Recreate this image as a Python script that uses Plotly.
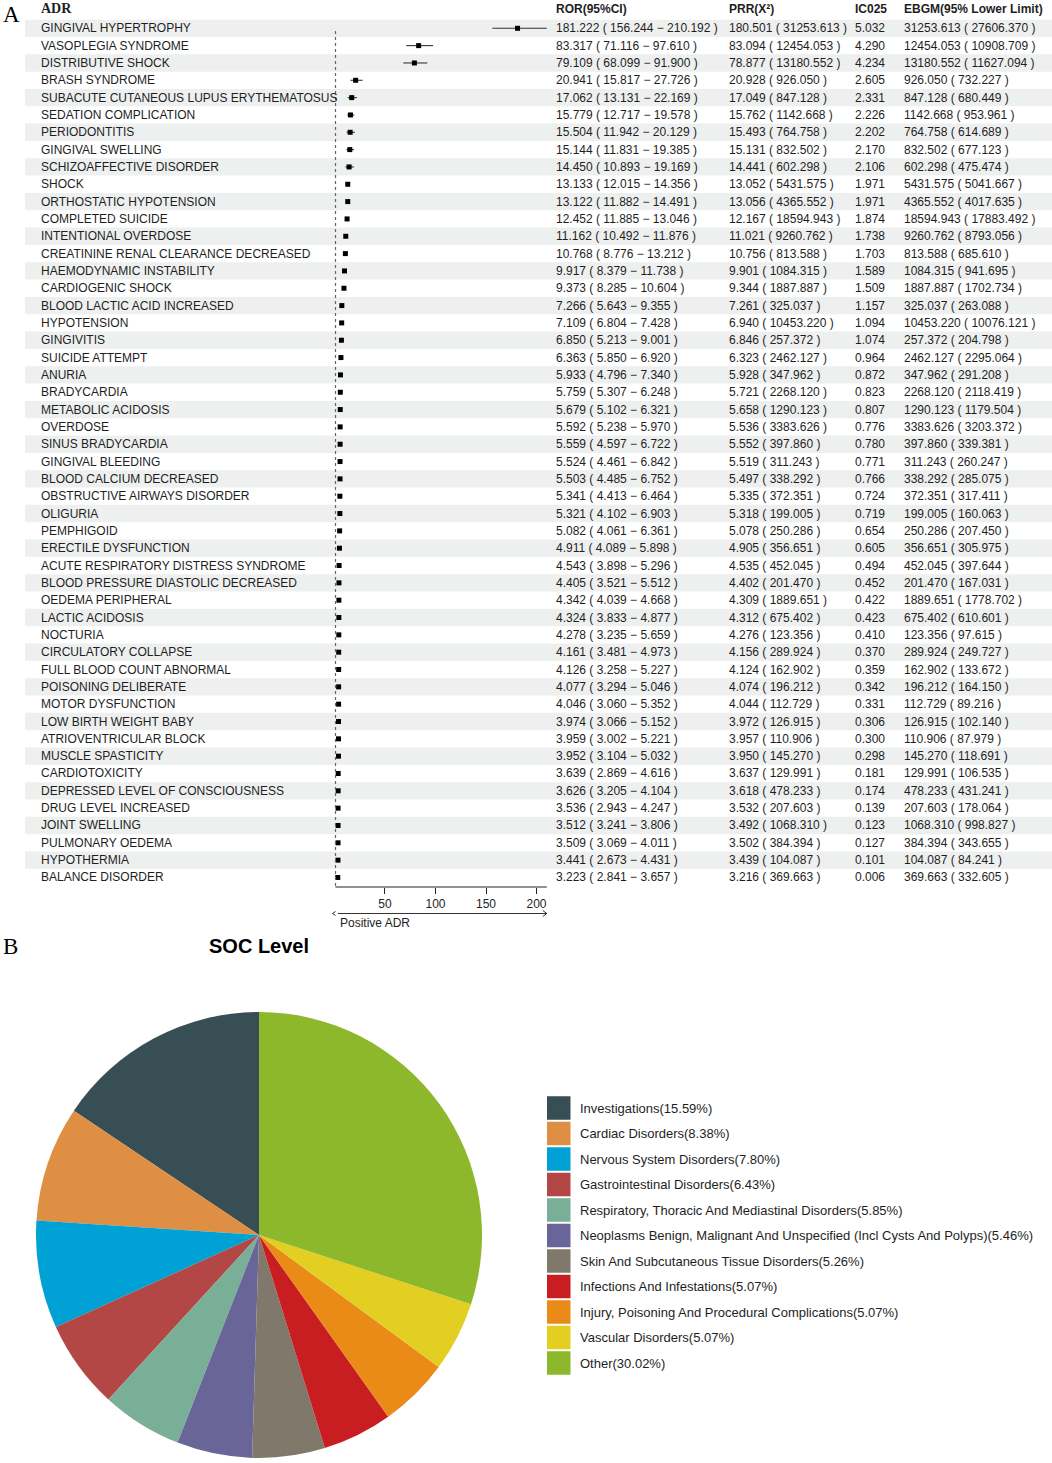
import plotly.graph_objects as go

W, H = 1052, 1463

# ---------------- data (panel A) ----------------
adr = ["GINGIVAL HYPERTROPHY", "VASOPLEGIA SYNDROME", "DISTRIBUTIVE SHOCK", "BRASH SYNDROME",
       "SUBACUTE CUTANEOUS LUPUS ERYTHEMATOSUS", "SEDATION COMPLICATION", "PERIODONTITIS",
       "GINGIVAL SWELLING", "SCHIZOAFFECTIVE DISORDER", "SHOCK", "ORTHOSTATIC HYPOTENSION",
       "COMPLETED SUICIDE", "INTENTIONAL OVERDOSE", "CREATININE RENAL CLEARANCE DECREASED",
       "HAEMODYNAMIC INSTABILITY", "CARDIOGENIC SHOCK", "BLOOD LACTIC ACID INCREASED",
       "HYPOTENSION", "GINGIVITIS", "SUICIDE ATTEMPT", "ANURIA", "BRADYCARDIA",
       "METABOLIC ACIDOSIS", "OVERDOSE", "SINUS BRADYCARDIA", "GINGIVAL BLEEDING",
       "BLOOD CALCIUM DECREASED", "OBSTRUCTIVE AIRWAYS DISORDER", "OLIGURIA", "PEMPHIGOID",
       "ERECTILE DYSFUNCTION", "ACUTE RESPIRATORY DISTRESS SYNDROME",
       "BLOOD PRESSURE DIASTOLIC DECREASED", "OEDEMA PERIPHERAL", "LACTIC ACIDOSIS", "NOCTURIA",
       "CIRCULATORY COLLAPSE", "FULL BLOOD COUNT ABNORMAL", "POISONING DELIBERATE",
       "MOTOR DYSFUNCTION", "LOW BIRTH WEIGHT BABY", "ATRIOVENTRICULAR BLOCK",
       "MUSCLE SPASTICITY", "CARDIOTOXICITY", "DEPRESSED LEVEL OF CONSCIOUSNESS",
       "DRUG LEVEL INCREASED", "JOINT SWELLING", "PULMONARY OEDEMA", "HYPOTHERMIA",
       "BALANCE DISORDER"]
ror = [181.222, 83.317, 79.109, 20.941, 17.062, 15.779, 15.504, 15.144, 14.450, 13.133,
       13.122, 12.452, 11.162, 10.768, 9.917, 9.373, 7.266, 7.109, 6.850, 6.363,
       5.933, 5.759, 5.679, 5.592, 5.559, 5.524, 5.503, 5.341, 5.321, 5.082,
       4.911, 4.543, 4.405, 4.342, 4.324, 4.278, 4.161, 4.126, 4.077, 4.046,
       3.974, 3.959, 3.952, 3.639, 3.626, 3.536, 3.512, 3.509, 3.441, 3.223]
ror_lo = [156.244, 71.116, 68.099, 15.817, 13.131, 12.717, 11.942, 11.831, 10.893, 12.015,
          11.882, 11.885, 10.492, 8.776, 8.379, 8.285, 5.643, 6.804, 5.213, 5.850,
          4.796, 5.307, 5.102, 5.238, 4.597, 4.461, 4.485, 4.413, 4.102, 4.061,
          4.089, 3.898, 3.521, 4.039, 3.833, 3.235, 3.481, 3.258, 3.294, 3.060,
          3.066, 3.002, 3.104, 2.869, 3.205, 2.943, 3.241, 3.069, 2.673, 2.841]
ror_hi = [210.192, 97.610, 91.900, 27.726, 22.169, 19.578, 20.129, 19.385, 19.169, 14.356,
          14.491, 13.046, 11.876, 13.212, 11.738, 10.604, 9.355, 7.428, 9.001, 6.920,
          7.340, 6.248, 6.321, 5.970, 6.722, 6.842, 6.752, 6.464, 6.903, 6.361,
          5.898, 5.296, 5.512, 4.668, 4.877, 5.659, 4.973, 5.227, 5.046, 5.352,
          5.152, 5.221, 5.032, 4.616, 4.104, 4.247, 3.806, 4.011, 4.431, 3.657]
prr = [180.501, 83.094, 78.877, 20.928, 17.049, 15.762, 15.493, 15.131, 14.441, 13.052,
       13.056, 12.167, 11.021, 10.756, 9.901, 9.344, 7.261, 6.940, 6.846, 6.323,
       5.928, 5.721, 5.658, 5.536, 5.552, 5.519, 5.497, 5.335, 5.318, 5.078,
       4.905, 4.535, 4.402, 4.309, 4.312, 4.276, 4.156, 4.124, 4.074, 4.044,
       3.972, 3.957, 3.950, 3.637, 3.618, 3.532, 3.492, 3.502, 3.439, 3.216]
chi2 = [31253.613, 12454.053, 13180.552, 926.050, 847.128, 1142.668, 764.758, 832.502, 602.298, 5431.575,
        4365.552, 18594.943, 9260.762, 813.588, 1084.315, 1887.887, 325.037, 10453.220, 257.372, 2462.127,
        347.962, 2268.120, 1290.123, 3383.626, 397.860, 311.243, 338.292, 372.351, 199.005, 250.286,
        356.651, 452.045, 201.470, 1889.651, 675.402, 123.356, 289.924, 162.902, 196.212, 112.729,
        126.915, 110.906, 145.270, 129.991, 478.233, 207.603, 1068.310, 384.394, 104.087, 369.663]
ic025 = [5.032, 4.290, 4.234, 2.605, 2.331, 2.226, 2.202, 2.170, 2.106, 1.971,
         1.971, 1.874, 1.738, 1.703, 1.589, 1.509, 1.157, 1.094, 1.074, 0.964,
         0.872, 0.823, 0.807, 0.776, 0.780, 0.771, 0.766, 0.724, 0.719, 0.654,
         0.605, 0.494, 0.452, 0.422, 0.423, 0.410, 0.370, 0.359, 0.342, 0.331,
         0.306, 0.300, 0.298, 0.181, 0.174, 0.139, 0.123, 0.127, 0.101, 0.006]
ebgm = [31253.613, 12454.053, 13180.552, 926.050, 847.128, 1142.668, 764.758, 832.502, 602.298, 5431.575,
        4365.552, 18594.943, 9260.762, 813.588, 1084.315, 1887.887, 325.037, 10453.220, 257.372, 2462.127,
        347.962, 2268.120, 1290.123, 3383.626, 397.860, 311.243, 338.292, 372.351, 199.005, 250.286,
        356.651, 452.045, 201.470, 1889.651, 675.402, 123.356, 289.924, 162.902, 196.212, 112.729,
        126.915, 110.906, 145.270, 129.991, 478.233, 207.603, 1068.310, 384.394, 104.087, 369.663]
ebgm05 = [27606.370, 10908.709, 11627.094, 732.227, 680.449, 953.961, 614.689, 677.123, 475.474, 5041.667,
          4017.635, 17883.492, 8793.056, 685.610, 941.695, 1702.734, 263.088, 10076.121, 204.798, 2295.064,
          291.208, 2118.419, 1179.504, 3203.372, 339.381, 260.247, 285.075, 317.411, 160.063, 207.450,
          305.975, 397.644, 167.031, 1778.702, 610.601, 97.615, 249.727, 133.672, 164.150, 89.216,
          102.140, 87.979, 118.691, 106.535, 431.241, 178.064, 998.827, 343.655, 84.241, 332.605]

col_headers = ["ROR(95%CI)", "PRR(X²)", "IC025", "EBGM(95% Lower Limit)"]
x_ticks = [50, 100, 150, 200]
ref_value = 1

# ---------------- data (panel B) ----------------
soc_labels = ["Investigations", "Cardiac Disorders", "Nervous System Disorders",
              "Gastrointestinal Disorders", "Respiratory, Thoracic And Mediastinal Disorders",
              "Neoplasms Benign, Malignant And Unspecified (Incl Cysts And Polyps)",
              "Skin And Subcutaneous Tissue Disorders", "Infections And Infestations",
              "Injury, Poisoning And Procedural Complications", "Vascular Disorders", "Other"]
soc_pct = [15.59, 8.38, 7.80, 6.43, 5.85, 5.46, 5.26, 5.07, 5.07, 5.07, 30.02]
soc_colors = ["#374E55", "#DF8F44", "#00A1D5", "#B24745", "#79AF97", "#6A6599",
              "#80796B", "#C91E21", "#E98B16", "#E3CE22", "#8DB82B"]

# ---------------- helpers ----------------
def PX(p):
    return p / W

def PY(p):
    return 1 - p / H

FONT = "Liberation Sans, Arial, sans-serif"
SERIF = "Liberation Serif, Times New Roman, serif"
TXT = "#1e1e1e"
n = len(adr)
rows = list(range(n))

# forest geometry (pixels)
row0_px, row_h = 28.3, 17.33
axis_px = 887
top_px = 19
ref_px, max_px = 335.5, 546.8
xmax = max(ror_hi)
scale = (max_px - ref_px) / (xmax - ref_value)
dom_l, dom_r = 326, 552
x_range = [ref_value - (ref_px - dom_l) / scale, xmax + (dom_r - max_px) / scale]
y_bottom = (axis_px - row0_px) / row_h
y_top = (top_px - row0_px) / row_h

fig = go.Figure()

fig.add_trace(go.Scatter(
    x=ror, y=rows, mode="markers",
    marker=dict(symbol="square", size=5, color="black"),
    error_x=dict(type="data", symmetric=False,
                 array=[h - r for h, r in zip(ror_hi, ror)],
                 arrayminus=[r - l for r, l in zip(ror, ror_lo)],
                 color="#333333", thickness=1.1, width=0),
    cliponaxis=False, hoverinfo="skip", showlegend=False,
    xaxis="x", yaxis="y"))

# pie: first slice starts at 12 o'clock and slices run counterclockwise
# (plotly places the first counterclockwise slice so it ends at `rotation`)
cx, cy, rad = 259, 1235, 223
first_share = soc_pct[0] / sum(soc_pct) * 360
fig.add_trace(go.Pie(
    labels=soc_labels, values=soc_pct, sort=False, direction="counterclockwise",
    rotation=-first_share, marker=dict(colors=soc_colors, line=dict(width=0)),
    textinfo="none", showlegend=False, hoverinfo="label+percent",
    domain=dict(x=[PX(cx - rad), PX(cx + rad)], y=[PY(cy + rad), PY(cy - rad)])))

shapes = []
ann = []

# row bands
for i in rows:
    if i % 2 == 0:
        shapes.append(dict(type="rect", xref="paper", yref="y", x0=PX(25), x1=1,
                           y0=i - 0.5, y1=i + 0.5, fillcolor="#EEF0F0",
                           line=dict(width=0), layer="below"))

# reference dotted line
shapes.append(dict(type="line", xref="x", yref="y", x0=ref_value, x1=ref_value,
                   y0=0.15, y1=y_bottom, line=dict(color="#666666", width=1.2, dash="dot")))
# axis line
shapes.append(dict(type="line", xref="x", yref="paper", x0=ref_value, x1=xmax,
                   y0=PY(axis_px), y1=PY(axis_px), line=dict(color="#222222", width=1)))
# arrow
arr_px = 913.5
ya = PY(arr_px)
shapes.append(dict(type="line", xref="x", yref="paper", x0=ref_value + 2.5 / scale, x1=xmax,
                   y0=ya, y1=ya, line=dict(color="#333333", width=1)))
hw = 4 / scale
hh = 3 / H
shapes.append(dict(type="path", xref="x", yref="paper",
                   path=f"M {xmax - hw},{ya + hh} L {xmax},{ya} L {xmax - hw},{ya - hh}",
                   line=dict(color="#333333", width=1)))
lw = 3 / scale
lh = 2 / H
shapes.append(dict(type="path", xref="x", yref="paper",
                   path=f"M {ref_value},{ya + lh} L {ref_value - lw},{ya} L {ref_value},{ya - lh}",
                   line=dict(color="#333333", width=1)))

# panel labels
ann.append(dict(text="A", x=PX(1), y=PY(14), xref="paper", yref="paper", xanchor="left",
                yanchor="middle", showarrow=False, font=dict(family=SERIF, size=23, color="black")))
ann.append(dict(text="B", x=PX(1), y=PY(946), xref="paper", yref="paper", xanchor="left",
                yanchor="middle", showarrow=False, font=dict(family=SERIF, size=23, color="black")))

# headers
hdr_y = PY(9)
ann.append(dict(text="<b>ADR</b>", x=PX(39), y=hdr_y, xref="paper", yref="paper", xanchor="left",
                yanchor="middle", showarrow=False, font=dict(family=SERIF, size=14, color=TXT)))
col_x = [553.5, 727, 853, 902]
for hx, ht in zip(col_x, col_headers):
    ann.append(dict(text=f"<b>{ht}</b>", x=PX(hx), y=hdr_y, xref="paper", yref="paper",
                    xanchor="left", yanchor="middle", showarrow=False,
                    font=dict(family=FONT, size=12, color=TXT)))

# table rows
for i in rows:
    cells = [
        (39, adr[i]),
        (col_x[0], f"{ror[i]:.3f} ( {ror_lo[i]:.3f} − {ror_hi[i]:.3f} )"),
        (col_x[1], f"{prr[i]:.3f} ( {chi2[i]:.3f} )"),
        (col_x[2], f"{ic025[i]:.3f}"),
        (col_x[3], f"{ebgm[i]:.3f} ( {ebgm05[i]:.3f} )"),
    ]
    for cxp, t in cells:
        ann.append(dict(text=t, x=PX(cxp), y=i, xref="paper", yref="y", xanchor="left",
                        yanchor="middle", showarrow=False,
                        font=dict(family=FONT, size=12, color=TXT)))

ann.append(dict(text="Positive ADR", x=PX(338), y=PY(923), xref="paper", yref="paper",
                xanchor="left", yanchor="middle", showarrow=False,
                font=dict(family=FONT, size=12, color=TXT)))

# panel B title
ann.append(dict(text="<b>SOC Level</b>", x=PX(cx), y=PY(946), xref="paper", yref="paper",
                xanchor="center", yanchor="middle", showarrow=False,
                font=dict(family=FONT, size=20, color="black")))

# legend
leg_x, leg_y0, leg_dy, sq = 547, 1108, 25.5, 23.5
for k, (lab, pct, col) in enumerate(zip(soc_labels, soc_pct, soc_colors)):
    yc = leg_y0 + k * leg_dy
    shapes.append(dict(type="rect", xref="paper", yref="paper",
                       x0=PX(leg_x), x1=PX(leg_x + sq), y0=PY(yc + sq / 2), y1=PY(yc - sq / 2),
                       fillcolor=col, line=dict(width=0)))
    ann.append(dict(text=f"{lab}({pct:.2f}%)", x=PX(578), y=PY(yc), xref="paper", yref="paper",
                    xanchor="left", yanchor="middle", showarrow=False,
                    font=dict(family=FONT, size=13, color=TXT)))

fig.update_layout(
    width=W, height=H, margin=dict(l=0, r=0, t=0, b=0),
    paper_bgcolor="white", plot_bgcolor="rgba(0,0,0,0)", showlegend=False,
    xaxis=dict(domain=[PX(dom_l), PX(dom_r)], range=x_range, tickvals=x_ticks,
               ticks="outside", ticklen=6, tickcolor="#222222", tickwidth=1,
               showgrid=False, zeroline=False, showline=False,
               tickfont=dict(family=FONT, size=12, color=TXT), fixedrange=True),
    yaxis=dict(domain=[PY(axis_px), PY(top_px)], range=[y_bottom, y_top], visible=False,
               fixedrange=True),
    shapes=shapes, annotations=ann,
)

fig.write_html("out.html", config={"displayModeBar": False},
               post_script="document.body.style.margin='0';document.body.style.overflow='hidden';")
